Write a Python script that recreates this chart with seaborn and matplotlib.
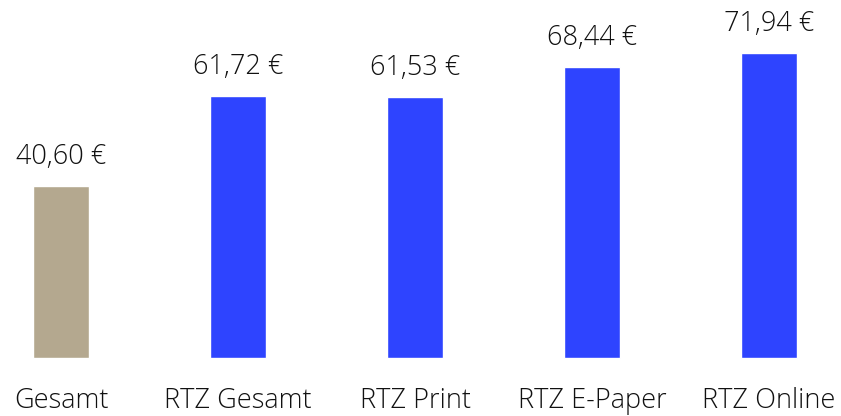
import matplotlib
matplotlib.use("Agg")
import matplotlib.pyplot as plt
import seaborn as sns
import pandas as pd

categories = ["Gesamt", "RTZ Gesamt", "RTZ Print", "RTZ E-Paper", "RTZ Online"]
values = [40.60, 61.72, 61.53, 68.44, 71.94]
labels = ["40,60 €", "61,72 €", "61,53 €", "68,44 €", "71,94 €"]
colors = ["#B4A88F", "#2E44FF", "#2E44FF", "#2E44FF", "#2E44FF"]

sns.set_style("white")
plt.rcParams['font.family'] = ['Open Sans', 'DejaVu Sans']

df = pd.DataFrame({"cat": categories, "val": values})

W, H = 841, 416
fig = plt.figure(figsize=(W / 100, H / 100), dpi=100)
base = 358
pxu = 4.245
ax = fig.add_axes([0, 0, 1, 1])
sns.barplot(data=df, x="cat", y="val", hue="cat", palette=colors, legend=False,
            width=0.316, ax=ax, saturation=1)
ax.set_ylim(-(H - base) / pxu, base / pxu)
ax.set_xlim((0 - 61) / 177, (W - 61) / 177)
ax.axis("off")
for i, (v, lab) in enumerate(zip(values, labels)):
    ax.text(i, v + 15 / pxu, lab, ha="center", va="bottom", fontsize=19.5,
            fontweight="light", color="#111111")
    ax.text(i, -43 / pxu, categories[i], ha="center", va="center", fontsize=19.5,
            fontweight="light", color="#111111")
fig.savefig("out.png", dpi=100)
